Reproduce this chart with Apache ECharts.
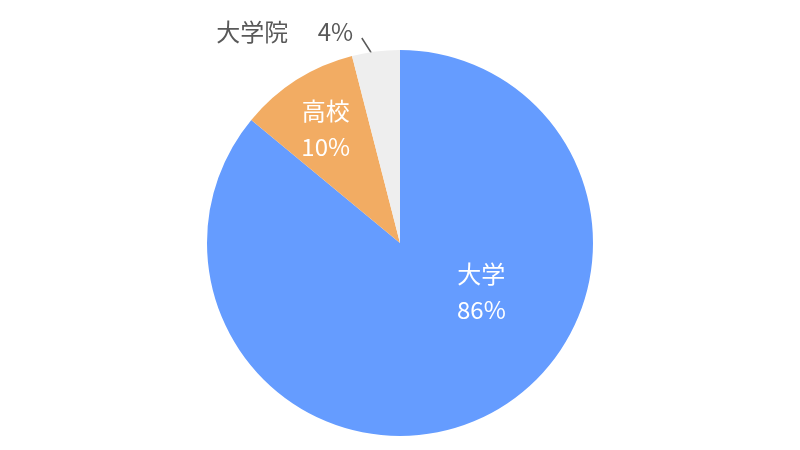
<!DOCTYPE html>
<html>
<head>
<meta charset="utf-8">
<script src="https://cdn.jsdelivr.net/npm/echarts@6/dist/echarts.min.js"></script>
<style>html,body{margin:0;padding:0;background:#fff;}#c{width:800px;height:450px;}</style>
</head>
<body>
<div id="c"></div>
<script>
const categories = ['大学', '高校', '大学院'];
const values = [86, 10, 4];
const colors = ['#659CFF', '#F2AC63', '#EEEEEE'];
const insideLabel = [true, true, false];

const chart = echarts.init(document.getElementById('c'));
const FONT = '"Noto Sans CJK JP", "Noto Sans", sans-serif';
chart.setOption({
  animation: false,
  series: [{
    type: 'pie',
    center: [400, 243],
    radius: 193,
    startAngle: 90,
    clockwise: true,
    data: categories.map((name, i) => ({
      name: name,
      value: values[i],
      itemStyle: { color: colors[i] },
      label: insideLabel[i] ? {
        position: 'inside',
        formatter: '{b}\n{d}%',
        color: '#ffffff',
        fontSize: 24,
        lineHeight: 36,
        fontFamily: FONT
      } : {
        position: 'outside',
        formatter: '{b}　 {d}%',
        color: '#595959',
        fontSize: 24,
        fontFamily: FONT
      },
      labelLine: insideLabel[i] ? { show: false } : {
        show: true, showAbove: true, length: 14, length2: 0,
        lineStyle: { color: '#595959', width: 1.5 }
      }
    })),
    labelLayout: function (p) {
      if (p.dataIndex === 0) return { dx: 39, dy: -41.5 };
      if (p.dataIndex === 1) return { dx: -21, dy: -30 };
      const res = { dx: -16, dy: -6 };
      const pts = p.labelLinePoints;
      if (pts && pts.length) {
        const e = pts[0];
        res.labelLinePoints = [[e[0] + 1, e[1] + 10.5], [e[0] - 6, e[1] - 1], [e[0] - 14, e[1] - 13.5]];
      }
      return res;
    }
  }]
});
</script>
</body>
</html>
